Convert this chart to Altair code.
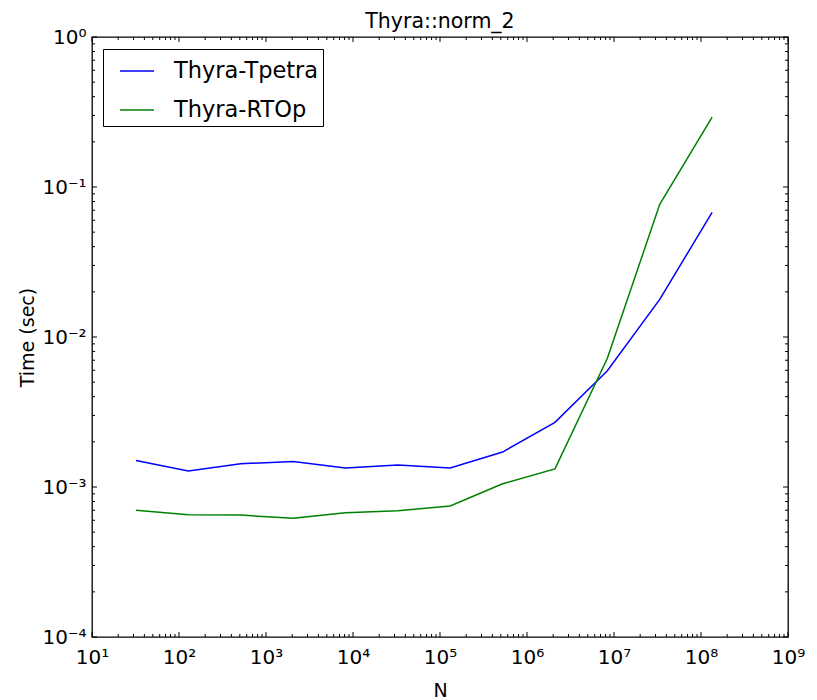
import altair as alt
import pandas as pd

N = [32, 128, 512, 2048, 8192, 32768, 131072, 524288, 2097152, 8388608, 33554432, 134217728]
tpetra = [1.50e-3, 1.28e-3, 1.43e-3, 1.48e-3, 1.34e-3, 1.40e-3, 1.34e-3, 1.71e-3, 2.70e-3, 5.96e-3, 1.78e-2, 6.78e-2]
rtop = [7.00e-4, 6.54e-4, 6.50e-4, 6.18e-4, 6.74e-4, 6.95e-4, 7.47e-4, 1.05e-3, 1.32e-3, 7.21e-3, 7.66e-2, 2.92e-1]
series = ["Thyra-Tpetra", "Thyra-RTOp"]
colors = ["#0000ff", "#008000"]

x_major = [10.0 ** k for k in range(1, 10)]
x_minor = [m * 10.0 ** k for k in range(1, 9) for m in range(2, 10)]
y_major = [10.0 ** k for k in range(-4, 1)]
y_minor = [m * 10.0 ** k for k in range(-4, 0) for m in range(2, 10)]

W, H = 696, 600
FONT = "DejaVu Sans"

df = pd.DataFrame({
    "N": N * 2,
    "Time": tpetra + rtop,
    "Series": [series[0]] * len(N) + [series[1]] * len(N),
})

label_expr = ("'10' + (round(log(datum.value)/LN10) < 0 ? '⁻' : '') + "
              "substring('⁰¹²³⁴⁵⁶⁷⁸⁹', abs(round(log(datum.value)/LN10)), "
              "abs(round(log(datum.value)/LN10)) + 1)")

xscale = alt.Scale(type="log", domain=[10, 1e9], nice=False)
yscale = alt.Scale(type="log", domain=[1e-4, 1], nice=False)

xaxis = alt.Axis(values=x_major, labelExpr=label_expr, ticks=False, grid=False,
                 domain=False, labelFontSize=20, labelFont=FONT, labelPadding=10,
                 titleFontSize=19, titleFont=FONT, titleFontWeight="normal",
                 titlePadding=14, labelColor="black", titleColor="black",
                 labelFlush=False)
yaxis = alt.Axis(values=y_major, labelExpr=label_expr, ticks=False, grid=False,
                 domain=False, labelFontSize=20, labelFont=FONT, labelPadding=6,
                 titleFontSize=19, titleFont=FONT, titleFontWeight="normal",
                 titlePadding=4, labelColor="black", titleColor="black",
                 labelFlush=False)

lines = alt.Chart(df).mark_line(strokeWidth=1.5).encode(
    x=alt.X("N:Q", scale=xscale, title="N", axis=xaxis),
    y=alt.Y("Time:Q", scale=yscale, title="Time (sec)", axis=yaxis),
    color=alt.Color("Series:N", scale=alt.Scale(domain=series, range=colors),
                    sort=series,
                    legend=alt.Legend(title=None, orient="none", legendX=11, legendY=12,
                                      strokeColor="black", fillColor="white", padding=4,
                                      symbolOffset=12,
                                      symbolType="stroke", symbolSize=1156,
                                      symbolStrokeWidth=1.5, labelOffset=19,
                                      labelFontSize=22.5, labelFont=FONT, labelColor="black",
                                      rowPadding=9, cornerRadius=0)),
)

def xt(vals, y0, y1):
    return alt.Chart(pd.DataFrame({"N": vals})).mark_rule(color="black", strokeWidth=1).encode(
        x=alt.X("N:Q", scale=xscale, title="N"), y=alt.value(y0), y2=alt.value(y1))

def yt(vals, x0, x1):
    return alt.Chart(pd.DataFrame({"Time": vals})).mark_rule(color="black", strokeWidth=1).encode(
        y=alt.Y("Time:Q", scale=yscale, title="Time (sec)"), x=alt.value(x0), x2=alt.value(x1))

MJ, MN = 5, 3
ticks = [
    xt(x_major, H, H - MJ), xt(x_minor, H, H - MN),
    xt(x_major, 0, MJ), xt(x_minor, 0, MN),
    yt(y_major, 0, MJ), yt(y_minor, 0, MN),
    yt(y_major, W, W - MJ), yt(y_minor, W, W - MN),
]

chart = alt.layer(lines, *ticks).properties(
    width=W, height=H,
    title=alt.Title("Thyra::norm_2", fontSize=20.5, font=FONT, fontWeight="normal",
                    color="black", offset=-5),
    autosize=alt.AutoSizeParams(type="none"),
    padding={"left": 84, "top": 29, "right": 21, "bottom": 63},
).configure(background="white").configure_view(stroke="black", strokeWidth=1.3)

chart.save("out.html", embed_options={"renderer": "svg", "actions": False})
